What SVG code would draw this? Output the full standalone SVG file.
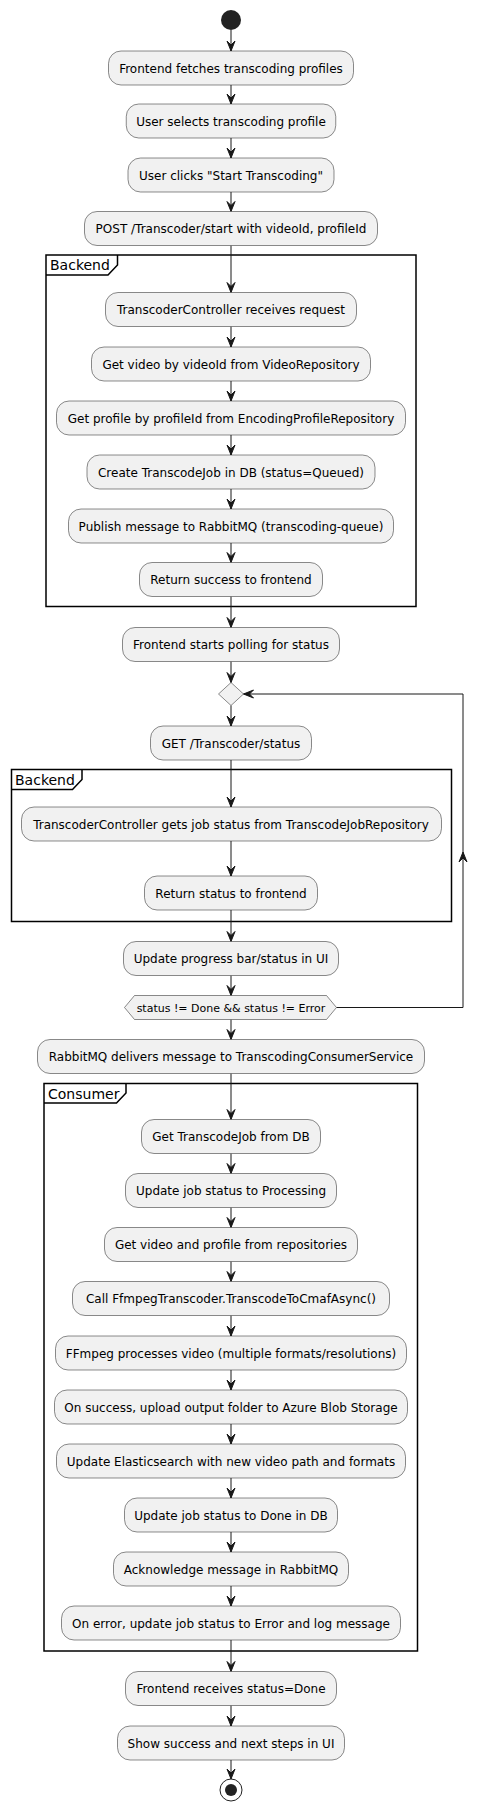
<svg xmlns="http://www.w3.org/2000/svg" width="488" height="1811" viewBox="0 0 488 1811">
<style>
.b{fill:#F1F1F1;stroke:#181818;stroke-width:0.5}
.t{font-family:"DejaVu Sans",sans-serif;font-size:12px;fill:#000;text-anchor:middle}
.f{fill:none;stroke:#000;stroke-width:1.5}
.ft{font-family:"DejaVu Sans",sans-serif;font-size:14px;fill:#000}
.c line,.c polyline{stroke:#181818;stroke-width:1;fill:none}
.h{fill:#181818;stroke:#181818;stroke-width:1}
</style>
<rect width="488" height="1811" fill="#FFFFFF"/>
<g id="frames">
<g id="frame-backend-1">
<rect class="f" x="46" y="255" width="370" height="351.5"/>
<path class="f" d="M46,275 L108,275 L117.5,265 L117.5,255"/>
<text class="ft" x="50" y="270">Backend</text>
</g>
<g id="frame-backend-2">
<rect class="f" x="11.5" y="769.5" width="440" height="152"/>
<path class="f" d="M11.5,789.5 L72.5,789.5 L82,779.5 L82,769.5"/>
<text class="ft" x="15" y="784.5">Backend</text>
</g>
<g id="frame-consumer">
<rect class="f" x="44" y="1083.5" width="373.5" height="567.5"/>
<path class="f" d="M44,1103 L116.5,1103 L126,1093 L126,1083.5"/>
<text class="ft" x="48" y="1098.5">Consumer</text>
</g>
</g>
<g class="c" id="connectors">
<line x1="231" y1="30" x2="231" y2="51"/>
<line x1="231" y1="85" x2="231" y2="104"/>
<line x1="231" y1="138" x2="231" y2="158"/>
<line x1="231" y1="192" x2="231" y2="211.5"/>
<line x1="231" y1="245.5" x2="231" y2="292.5"/>
<line x1="231" y1="326.5" x2="231" y2="347"/>
<line x1="231" y1="381" x2="231" y2="401"/>
<line x1="231" y1="435" x2="231" y2="455"/>
<line x1="231" y1="489" x2="231" y2="509"/>
<line x1="231" y1="543" x2="231" y2="562.5"/>
<line x1="231" y1="596.5" x2="231" y2="627.5"/>
<line x1="231" y1="661.5" x2="231" y2="682.5"/>
<line x1="231" y1="705.5" x2="231" y2="726"/>
<line x1="231" y1="760" x2="231" y2="807"/>
<line x1="231" y1="841" x2="231" y2="876"/>
<line x1="231" y1="910" x2="231" y2="941.5"/>
<line x1="231" y1="975.5" x2="231" y2="995.5"/>
<line x1="231" y1="1019.5" x2="231" y2="1039.5"/>
<line x1="231" y1="1073.5" x2="231" y2="1119.5"/>
<line x1="231" y1="1153.5" x2="231" y2="1173.5"/>
<line x1="231" y1="1207.5" x2="231" y2="1227.5"/>
<line x1="231" y1="1261.5" x2="231" y2="1281.5"/>
<line x1="231" y1="1315.5" x2="231" y2="1336"/>
<line x1="231" y1="1370" x2="231" y2="1390"/>
<line x1="231" y1="1424" x2="231" y2="1444"/>
<line x1="231" y1="1478" x2="231" y2="1498"/>
<line x1="231" y1="1532" x2="231" y2="1552"/>
<line x1="231" y1="1586" x2="231" y2="1606"/>
<line x1="231" y1="1640" x2="231" y2="1671.5"/>
<line x1="231" y1="1705.5" x2="231" y2="1726"/>
<line x1="231" y1="1760" x2="231" y2="1779"/>
<polyline points="336.5,1007.5 463,1007.5 463,694 243.5,694"/>
<polygon class="h" points="227,41 231,51 235,41 231,45"/>
<polygon class="h" points="227,94 231,104 235,94 231,98"/>
<polygon class="h" points="227,148 231,158 235,148 231,152"/>
<polygon class="h" points="227,201.5 231,211.5 235,201.5 231,205.5"/>
<polygon class="h" points="227,282.5 231,292.5 235,282.5 231,286.5"/>
<polygon class="h" points="227,337 231,347 235,337 231,341"/>
<polygon class="h" points="227,391 231,401 235,391 231,395"/>
<polygon class="h" points="227,445 231,455 235,445 231,449"/>
<polygon class="h" points="227,499 231,509 235,499 231,503"/>
<polygon class="h" points="227,552.5 231,562.5 235,552.5 231,556.5"/>
<polygon class="h" points="227,617.5 231,627.5 235,617.5 231,621.5"/>
<polygon class="h" points="227,672.5 231,682.5 235,672.5 231,676.5"/>
<polygon class="h" points="227,716 231,726 235,716 231,720"/>
<polygon class="h" points="227,797 231,807 235,797 231,801"/>
<polygon class="h" points="227,866 231,876 235,866 231,870"/>
<polygon class="h" points="227,931.5 231,941.5 235,931.5 231,935.5"/>
<polygon class="h" points="227,985.5 231,995.5 235,985.5 231,989.5"/>
<polygon class="h" points="227,1029.5 231,1039.5 235,1029.5 231,1033.5"/>
<polygon class="h" points="227,1109.5 231,1119.5 235,1109.5 231,1113.5"/>
<polygon class="h" points="227,1163.5 231,1173.5 235,1163.5 231,1167.5"/>
<polygon class="h" points="227,1217.5 231,1227.5 235,1217.5 231,1221.5"/>
<polygon class="h" points="227,1271.5 231,1281.5 235,1271.5 231,1275.5"/>
<polygon class="h" points="227,1326 231,1336 235,1326 231,1330"/>
<polygon class="h" points="227,1380 231,1390 235,1380 231,1384"/>
<polygon class="h" points="227,1434 231,1444 235,1434 231,1438"/>
<polygon class="h" points="227,1488 231,1498 235,1488 231,1492"/>
<polygon class="h" points="227,1542 231,1552 235,1542 231,1546"/>
<polygon class="h" points="227,1596 231,1606 235,1596 231,1600"/>
<polygon class="h" points="227,1661.5 231,1671.5 235,1661.5 231,1665.5"/>
<polygon class="h" points="227,1716 231,1726 235,1716 231,1720"/>
<polygon class="h" points="227,1769 231,1779 235,1769 231,1773"/>
<polygon class="h" points="253.5,690 243.5,694 253.5,698 249.5,694"/>
<polygon class="h" points="459,862 463,852 467,862 463,858"/>
</g>
<g id="start"><circle cx="231" cy="20" r="10" fill="#222222"/></g>
<g id="n1"><rect class="b" x="108.5" y="51" width="245" height="34" rx="12.5"/><text class="t" x="231" y="72.5">Frontend fetches transcoding profiles</text></g>
<g id="n2"><rect class="b" x="126.25" y="104" width="209.5" height="34" rx="12.5"/><text class="t" x="231" y="125.5">User selects transcoding profile</text></g>
<g id="n3"><rect class="b" x="128" y="158" width="206" height="34" rx="12.5"/><text class="t" x="231" y="179.5">User clicks "Start Transcoding"</text></g>
<g id="n4"><rect class="b" x="84.5" y="211.5" width="293" height="34" rx="12.5"/><text class="t" x="231" y="233">POST /Transcoder/start with videoId, profileId</text></g>
<g id="n5"><rect class="b" x="105.5" y="292.5" width="251" height="34" rx="12.5"/><text class="t" x="231" y="314">TranscoderController receives request</text></g>
<g id="n6"><rect class="b" x="91.5" y="347" width="279" height="34" rx="12.5"/><text class="t" x="231" y="368.5">Get video by videoId from VideoRepository</text></g>
<g id="n7"><rect class="b" x="56.5" y="401" width="349" height="34" rx="12.5"/><text class="t" x="231" y="422.5">Get profile by profileId from EncodingProfileRepository</text></g>
<g id="n8"><rect class="b" x="87" y="455" width="288" height="34" rx="12.5"/><text class="t" x="231" y="476.5">Create TranscodeJob in DB (status=Queued)</text></g>
<g id="n9"><rect class="b" x="68.5" y="509" width="325" height="34" rx="12.5"/><text class="t" x="231" y="530.5">Publish message to RabbitMQ (transcoding-queue)</text></g>
<g id="n10"><rect class="b" x="139.5" y="562.5" width="183" height="34" rx="12.5"/><text class="t" x="231" y="584">Return success to frontend</text></g>
<g id="n11"><rect class="b" x="122.5" y="627.5" width="217" height="34" rx="12.5"/><text class="t" x="231" y="649">Frontend starts polling for status</text></g>
<g id="loop-merge"><polygon class="b" points="231,682.5 243.5,694 231,705.5 218.5,694"/></g>
<g id="n12"><rect class="b" x="150.5" y="726" width="161" height="34" rx="12.5"/><text class="t" x="231" y="747.5">GET /Transcoder/status</text></g>
<g id="n13"><rect class="b" x="21.5" y="807" width="420" height="34" rx="12.5"/><text class="t" x="231" y="828.5">TranscoderController gets job status from TranscodeJobRepository</text></g>
<g id="n14"><rect class="b" x="144.5" y="876" width="173" height="34" rx="12.5"/><text class="t" x="231" y="897.5">Return status to frontend</text></g>
<g id="n15"><rect class="b" x="123.5" y="941.5" width="215" height="34" rx="12.5"/><text class="t" x="231" y="963">Update progress bar/status in UI</text></g>
<g id="loop-cond"><polygon class="b" points="124.5,1007.5 134.5,995.5 326.5,995.5 336.5,1007.5 326.5,1019.5 134.5,1019.5"/><text class="t" x="231" y="1011.5" style="font-size:11px">status != Done &amp;&amp; status != Error</text></g>
<g id="n16"><rect class="b" x="37.5" y="1039.5" width="387" height="34" rx="12.5"/><text class="t" x="231" y="1061">RabbitMQ delivers message to TranscodingConsumerService</text></g>
<g id="n17"><rect class="b" x="141.5" y="1119.5" width="179" height="34" rx="12.5"/><text class="t" x="231" y="1141">Get TranscodeJob from DB</text></g>
<g id="n18"><rect class="b" x="125.5" y="1173.5" width="211" height="34" rx="12.5"/><text class="t" x="231" y="1195">Update job status to Processing</text></g>
<g id="n19"><rect class="b" x="104.5" y="1227.5" width="253" height="34" rx="12.5"/><text class="t" x="231" y="1249">Get video and profile from repositories</text></g>
<g id="n20"><rect class="b" x="72.5" y="1281.5" width="317" height="34" rx="12.5"/><text class="t" x="231" y="1303">Call FfmpegTranscoder.TranscodeToCmafAsync()</text></g>
<g id="n21"><rect class="b" x="55.5" y="1336" width="351" height="34" rx="12.5"/><text class="t" x="231" y="1357.5">FFmpeg processes video (multiple formats/resolutions)</text></g>
<g id="n22"><rect class="b" x="54.5" y="1390" width="353" height="34" rx="12.5"/><text class="t" x="231" y="1411.5">On success, upload output folder to Azure Blob Storage</text></g>
<g id="n23"><rect class="b" x="56.5" y="1444" width="349" height="34" rx="12.5"/><text class="t" x="231" y="1465.5">Update Elasticsearch with new video path and formats</text></g>
<g id="n24"><rect class="b" x="124.5" y="1498" width="213" height="34" rx="12.5"/><text class="t" x="231" y="1519.5">Update job status to Done in DB</text></g>
<g id="n25"><rect class="b" x="113.5" y="1552" width="235" height="34" rx="12.5"/><text class="t" x="231" y="1573.5">Acknowledge message in RabbitMQ</text></g>
<g id="n26"><rect class="b" x="61.5" y="1606" width="339" height="34" rx="12.5"/><text class="t" x="231" y="1627.5">On error, update job status to Error and log message</text></g>
<g id="n27"><rect class="b" x="125.5" y="1671.5" width="211" height="34" rx="12.5"/><text class="t" x="231" y="1693">Frontend receives status=Done</text></g>
<g id="n28"><rect class="b" x="117.5" y="1726" width="227" height="34" rx="12.5"/><text class="t" x="231" y="1747.5">Show success and next steps in UI</text></g>
<g id="end"><circle cx="231" cy="1790" r="11" fill="none" stroke="#222222" stroke-width="1"/><circle cx="231" cy="1790" r="6" fill="#222222"/></g>
</svg>
